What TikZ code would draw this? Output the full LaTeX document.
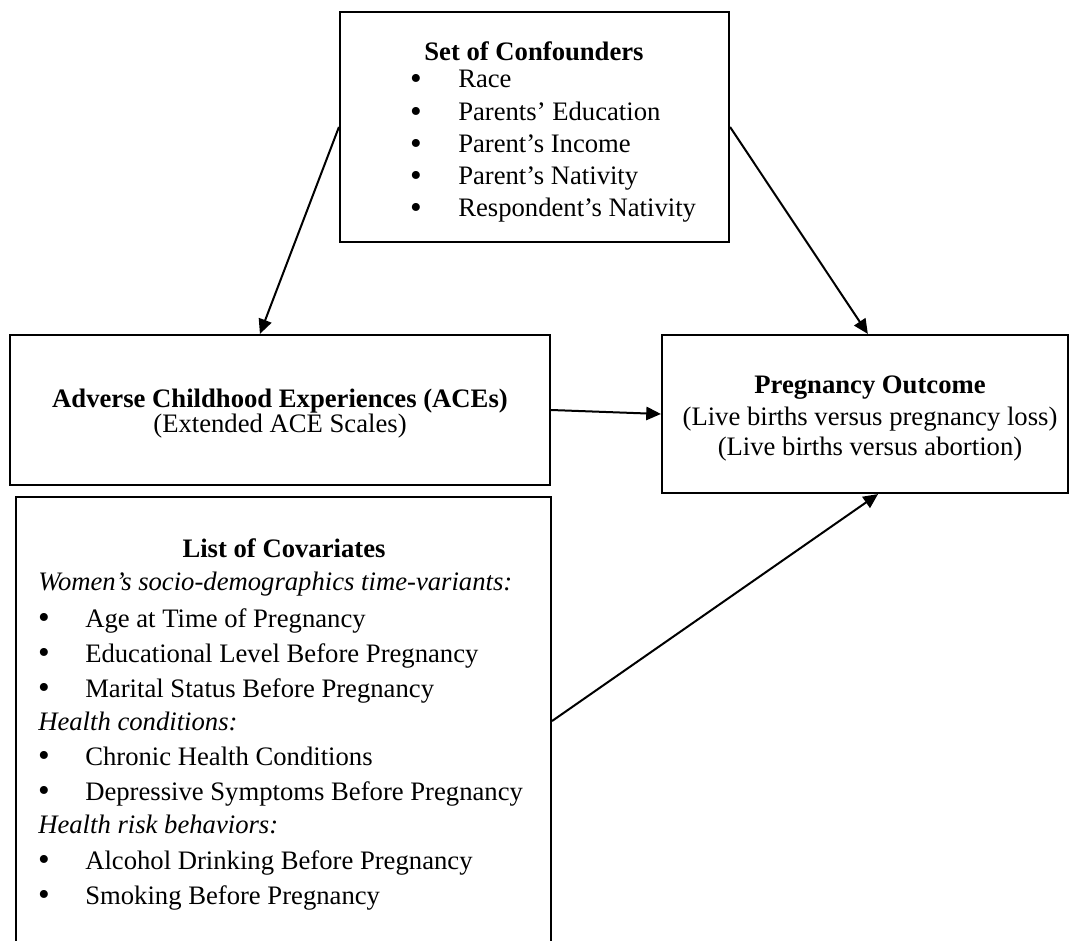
\documentclass[tikz,border=0pt]{standalone}
\usepackage{fontspec}
\setmainfont{Liberation Serif}
\usetikzlibrary{arrows.meta,fit,calc}
\begin{document}
\begin{tikzpicture}[x=0.75pt,y=-0.75pt,
  box/.style={draw,line width=1.6pt,inner sep=0pt},
  conn/.style={line width=1.5pt,-{Triangle[length=11pt,width=10pt]}},
  txt/.style={inner sep=0pt,font=\fontsize{20}{24}\selectfont},
  hd/.style={txt,font=\fontsize{20}{24}\selectfont\bfseries},
  it/.style={txt,font=\fontsize{20}{24}\selectfont\itshape},
  bul/.style={inner sep=0pt,anchor=base,yshift=-0.8pt,font=\fontsize{25}{25}\selectfont}]
\clip (0,0) rectangle (1071,941);
% boxes
\node[box,fit={(340,12) (729,242)}] (conf) {};
\node[box,fit={(10,335) (550,485)}] (ace) {};
\node[box,fit={(662,335) (1068,493)}] (preg) {};
\node[box,fit={(16,497) (551,945)}] (cov) {};
% confounders text
\node[hd,anchor=base] (confh) at (534,61) {Set of Confounders};
\foreach \y/\t [count=\i] in {88/Race,121/Parents’ Education,153/Parent’s Income,185/Parent’s Nativity,217/Respondent’s Nativity}{
  \node[bul] (cb\i) at (416,\y) {\smash{•}};
  \node[txt,anchor=base west] (ct\i) at (458,\y) {\t};
}
% ACE text
\node[hd,anchor=base] (aceh) at (280,407) {Adverse Childhood Experiences (ACEs)};
\node[txt,anchor=base] (aces) at (280,432) {(Extended ACE Scales)};
% pregnancy text
\node[hd,anchor=base] (pregh) at (870,393) {Pregnancy Outcome};
\node[txt,anchor=base] (preg1) at (870,425) {(Live births versus pregnancy loss)};
\node[txt,anchor=base] (preg2) at (870,455) {(Live births versus abortion)};
% covariates text
\node[hd,anchor=base] (covh) at (284,557) {List of Covariates};
\node[it,anchor=base west] (covg1) at (38,590) {Women’s socio-demographics time-variants:};
\node[it,anchor=base west] (covg2) at (38,730) {Health conditions:};
\node[it,anchor=base west] (covg3) at (38,833) {Health risk behaviors:};
\foreach \y/\t [count=\i] in {627/Age at Time of Pregnancy,662/Educational Level Before Pregnancy,697/Marital Status Before Pregnancy,765/Chronic Health Conditions,800/Depressive Symptoms Before Pregnancy,869/Alcohol Drinking Before Pregnancy,904/Smoking Before Pregnancy}{
  \node[bul] (vb\i) at (44,\y) {\smash{•}};
  \node[txt,anchor=base west] (vt\i) at (85,\y) {\t};
}
% connectors
\draw[conn] (conf.west) -- ($(ace.north west)!0.463!(ace.north east)$);
\draw[conn] (conf.east) -- ($(preg.north west)!0.507!(preg.north east)$);
\draw[conn] (ace.east) -- (preg.west);
\draw[conn] (cov.east) -- ($(preg.south west)!0.532!(preg.south east)$);
\end{tikzpicture}
\end{document}
